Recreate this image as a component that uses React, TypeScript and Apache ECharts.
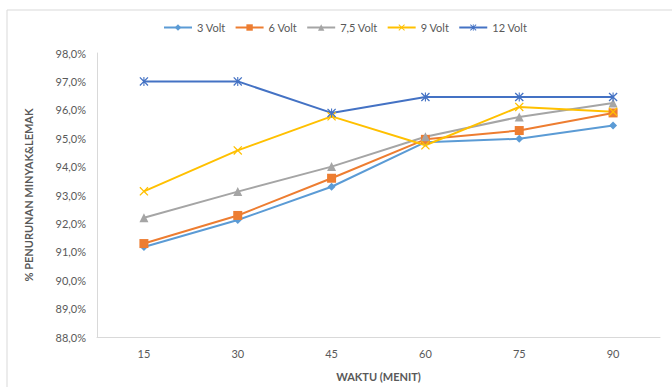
import React, { useEffect, useRef } from "react";
import * as echarts from "echarts";

// Waktu pengolahan (menit)
const categories: string[] = ["15", "30", "45", "60", "75", "90"];

// % penurunan minyak & lemak per tegangan
const volt3: number[] = [91.17, 92.12, 93.29, 94.86, 94.98, 95.45];
const volt6: number[] = [91.29, 92.28, 93.59, 94.96, 95.27, 95.89];
const volt75: number[] = [92.2, 93.12, 94.0, 95.05, 95.75, 96.24];
const volt9: number[] = [93.13, 94.57, 95.77, 94.75, 96.1, 95.93];
const volt12: number[] = [97.0, 97.0, 95.89, 96.45, 96.45, 96.45];

const seriesNames: string[] = ["3 Volt", "6 Volt", "7,5 Volt", "9 Volt", "12 Volt"];

const FONT = "Lato, 'Open Sans', sans-serif";
const TEXT = "#595959";
const AXIS = "#d9d9d9";

// cross marker and asterisk marker drawn as filled outlines
const crossPath =
  "path://M0,1 L1,0 L5,4 L9,0 L10,1 L6,5 L10,9 L9,10 L5,6 L1,10 L0,9 L4,5 Z";
const asteriskPath =
  "path://M0,1 L1,0 L5,4 L9,0 L10,1 L6,5 L10,9 L9,10 L5,6 L1,10 L0,9 L4,5 Z M4.4,0 L5.6,0 L5.6,10 L4.4,10 Z";

export default function App() {
  const ref = useRef<HTMLDivElement>(null);

  useEffect(() => {
    if (!ref.current) return;
    const chart = echarts.init(ref.current, undefined, { renderer: "svg" });

    const mk = (
      name: string,
      data: number[],
      color: string,
      symbol: string,
      symbolSize: number
    ) => ({
      name,
      type: "line",
      data,
      symbol,
      symbolSize,
      showSymbol: true,
      lineStyle: { color, width: 2 },
      itemStyle: { color, borderWidth: 0 },
      z: 2,
    });

    chart.setOption({
      animation: false,
      backgroundColor: "#ffffff",
      textStyle: { fontFamily: FONT },
      graphic: [
        {
          type: "rect",
          shape: { x: 7, y: 10, width: 700, height: 400 },
          style: { fill: "none", stroke: AXIS, lineWidth: 1 },
          silent: true,
        },
      ],
      legend: {
        top: 17,
        left: 158,
        itemWidth: 28,
        itemHeight: 8,
        itemGap: 9,
        textStyle: { color: TEXT, fontSize: 11, fontFamily: FONT },
        data: seriesNames,
      },
      grid: { left: 97, right: 12, top: 53, bottom: 48 },
      xAxis: {
        type: "category",
        data: categories,
        boundaryGap: true,
        axisLine: { show: true, lineStyle: { color: AXIS, width: 1 } },
        axisTick: { show: false },
        axisLabel: { color: TEXT, fontSize: 11, margin: 11, fontFamily: FONT },
        name: "WAKTU (MENIT)",
        nameLocation: "middle",
        nameGap: 34,
        nameTextStyle: { color: TEXT, fontSize: 11, fontWeight: "bold", fontFamily: FONT },
      },
      yAxis: {
        type: "value",
        min: 88,
        max: 98,
        interval: 1,
        axisLine: { show: true, lineStyle: { color: AXIS, width: 1 } },
        axisTick: { show: false },
        splitLine: { show: false },
        axisLabel: {
          color: TEXT,
          fontSize: 11,
          margin: 11,
          fontFamily: FONT,
          formatter: (v: number) => v.toFixed(1).replace(".", ",") + "%",
        },
        name: "% PENURUNAN MINYAK&LEMAK",
        nameLocation: "middle",
        nameGap: 63,
        nameRotate: 90,
        nameTextStyle: { color: TEXT, fontSize: 11, fontWeight: "bold", fontFamily: FONT },
      },
      series: [
        mk(seriesNames[0], volt3, "#5B9BD5", "diamond", 8),
        mk(seriesNames[1], volt6, "#ED7D31", "rect", 9),
        mk(seriesNames[2], volt75, "#A5A5A5", "triangle", 9),
        mk(seriesNames[3], volt9, "#FFC000", crossPath, 9),
        mk(seriesNames[4], volt12, "#4472C4", asteriskPath, 9),
      ],
    });

    return () => chart.dispose();
  }, []);

  return (
    <div
      ref={ref}
      style={{ position: "absolute", left: 0, top: 0, width: 672, height: 387 }}
    />
  );
}
